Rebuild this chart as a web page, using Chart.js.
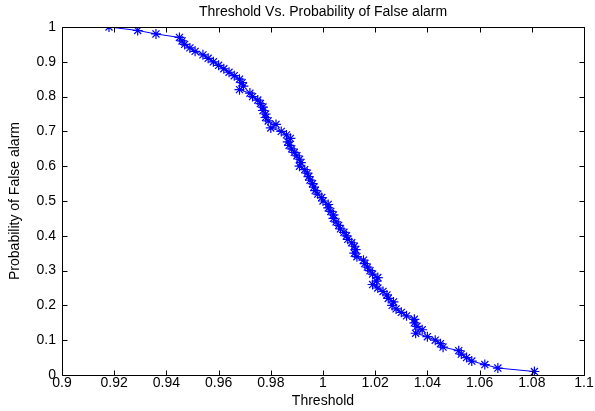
<!DOCTYPE html>
<html>
<head>
<meta charset="utf-8">
<script src="https://cdn.jsdelivr.net/npm/chart.js@4.4.1/dist/chart.umd.min.js"></script>
<style>
  body { margin: 0; background: #fff; }
</style>
</head>
<body>
<canvas id="myChart" width="595" height="411"></canvas>
<script>
// threshold values, one per false-alarm level
var threshold = [
  0.918, 0.929, 0.936, 0.945, 0.946, 0.947, 0.949, 0.951, 0.954, 0.956,
  0.958, 0.960, 0.962, 0.964, 0.966, 0.968, 0.969, 0.9695, 0.968, 0.972,
  0.973, 0.975, 0.976, 0.977, 0.977, 0.978, 0.978, 0.979, 0.982, 0.980,
  0.984, 0.986, 0.9875, 0.9865, 0.987, 0.988, 0.989, 0.990, 0.991, 0.9915,
  0.991, 0.993, 0.994, 0.9945, 0.995, 0.996, 0.9965, 0.997, 0.998, 0.9995,
  1.000, 1.002, 1.002, 1.003, 1.004, 1.004, 1.005, 1.006, 1.0067, 1.008,
  1.009, 1.0095, 1.011, 1.012, 1.0125, 1.012, 1.013, 1.0155, 1.016, 1.017,
  1.018, 1.019, 1.021, 1.0205, 1.019, 1.021, 1.023, 1.0245, 1.025, 1.027,
  1.0265, 1.028, 1.030, 1.032, 1.035, 1.035, 1.036, 1.038, 1.0355, 1.040,
  1.043, 1.045, 1.046, 1.052, 1.053, 1.055, 1.057, 1.062, 1.067, 1.081
];
var pfa = [
  1.00, 0.99, 0.98, 0.97, 0.96, 0.95, 0.94, 0.93, 0.92, 0.91,
  0.90, 0.89, 0.88, 0.87, 0.86, 0.85, 0.84, 0.83, 0.82, 0.81,
  0.80, 0.79, 0.78, 0.77, 0.76, 0.75, 0.74, 0.73, 0.72, 0.71,
  0.70, 0.69, 0.68, 0.67, 0.66, 0.65, 0.64, 0.63, 0.62, 0.61,
  0.60, 0.59, 0.58, 0.57, 0.56, 0.55, 0.54, 0.53, 0.52, 0.51,
  0.50, 0.49, 0.48, 0.47, 0.46, 0.45, 0.44, 0.43, 0.42, 0.41,
  0.40, 0.39, 0.38, 0.37, 0.36, 0.35, 0.34, 0.33, 0.32, 0.31,
  0.30, 0.29, 0.28, 0.27, 0.26, 0.25, 0.24, 0.23, 0.22, 0.21,
  0.20, 0.19, 0.18, 0.17, 0.16, 0.15, 0.14, 0.13, 0.12, 0.11,
  0.10, 0.09, 0.08, 0.07, 0.06, 0.05, 0.04, 0.03, 0.02, 0.01
];
var xTicks = [0.9, 0.92, 0.94, 0.96, 0.98, 1, 1.02, 1.04, 1.06, 1.08, 1.1];
var yTicks = [0, 0.1, 0.2, 0.3, 0.4, 0.5, 0.6, 0.7, 0.8, 0.9, 1];

var points = threshold.map(function (t, i) { return { x: t, y: pfa[i] }; });

var fontFam = '"Liberation Sans", Arial, sans-serif';

// matlab style box with ticks pointing inwards
var boxPlugin = {
  id: 'box',
  afterDraw: function (chart) {
    var c = chart.ctx, a = chart.chartArea;
    var xs = chart.scales.x, ys = chart.scales.y;
    var L = Math.round(a.left) + 0.5, R = Math.round(a.right) + 0.5;
    var T = Math.round(a.top) + 0.5, B = Math.round(a.bottom) + 0.5;
    c.save();
    c.strokeStyle = '#000';
    c.lineWidth = 1;
    c.beginPath();
    c.rect(L, T, R - L, B - T);
    xTicks.forEach(function (v) {
      var px = Math.round(xs.getPixelForValue(v)) + 0.5;
      c.moveTo(px, B); c.lineTo(px, B - 5);
      c.moveTo(px, T); c.lineTo(px, T + 5);
    });
    yTicks.forEach(function (v) {
      var py = Math.round(ys.getPixelForValue(v)) + 0.5;
      c.moveTo(L, py); c.lineTo(L + 5, py);
      c.moveTo(R, py); c.lineTo(R - 5, py);
    });
    c.stroke();
    c.restore();
  }
};

var ctx = document.getElementById('myChart').getContext('2d');
var myChart = new Chart(ctx, {
  type: 'line',
  data: {
    datasets: [{
      label: 'Pfa',
      data: points,
      borderColor: '#0000ff',
      backgroundColor: '#0000ff',
      borderWidth: 1,
      pointStyle: 'star',
      pointRadius: 5,
      pointBorderWidth: 1.2,
      pointBorderColor: '#0000ff',
      tension: 0,
      fill: false
    }]
  },
  options: {
    responsive: false,
    animation: false,
    layout: { padding: { left: 0, right: 11, top: 0, bottom: 0 } },
    plugins: {
      legend: { display: false },
      tooltip: { enabled: false },
      title: {
        display: true,
        fullSize: false,
        text: 'Threshold Vs. Probability of False alarm',
        color: '#000',
        font: { family: fontFam, size: 14, weight: 'normal' },
        padding: { top: 4, bottom: 6.2 }
      }
    },
    scales: {
      x: {
        type: 'linear',
        min: 0.9,
        max: 1.1,
        afterFit: function (s) { s.height = 36; },
        afterBuildTicks: function (s) { s.ticks = xTicks.map(function (v) { return { value: v }; }); },
        grid: { display: false, drawTicks: false },
        border: { display: false },
        ticks: {
          autoSkip: false,
          maxRotation: 0,
          padding: 0,
          color: '#000',
          font: { family: fontFam, size: 14 },
          callback: function (v) { return String(+v.toFixed(2)); }
        },
        title: {
          display: true,
          text: 'Threshold',
          color: '#000',
          font: { family: fontFam, size: 14 },
          padding: { top: 0, bottom: 1 }
        }
      },
      y: {
        type: 'linear',
        min: 0,
        max: 1,
        afterFit: function (s) { s.width = 62; },
        afterBuildTicks: function (s) { s.ticks = yTicks.map(function (v) { return { value: v }; }); },
        grid: { display: false, drawTicks: false },
        border: { display: false },
        ticks: {
          autoSkip: false,
          padding: 6,
          color: '#000',
          font: { family: fontFam, size: 14 },
          callback: function (v) { return String(+v.toFixed(2)); }
        },
        title: {
          display: true,
          text: 'Probability of False alarm',
          color: '#000',
          font: { family: fontFam, size: 14 },
          padding: { top: 7, bottom: 0 }
        }
      }
    }
  },
  plugins: [boxPlugin]
});
</script>
</body>
</html>
